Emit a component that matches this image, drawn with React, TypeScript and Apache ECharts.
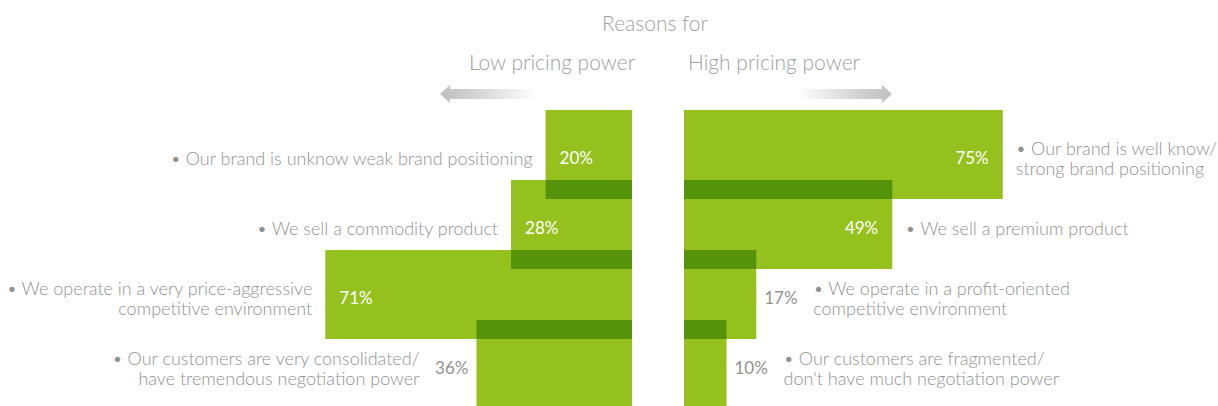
import React, { useEffect, useRef } from "react";
import * as echarts from "echarts";

const categories = ["r1", "r2", "r3", "r4"];
const lowValues = [20, 28, 71, 36];
const highValues = [75, 49, 17, 10];
const lowLabels = [
  "• Our brand is unknow weak brand positioning",
  "• We sell a commodity product",
  "• We operate in a very price-aggressive\ncompetitive environment",
  "• Our customers are very consolidated/\nhave tremendous negotiation power",
];
const highLabels = [
  "• Our brand is well know/\nstrong brand positioning",
  "• We sell a premium product",
  "• We operate in a profit-oriented\ncompetitive environment",
  "• Our customers are fragmented/\ndon't have much negotiation power",
];
const lowInside = [true, true, true, false];
const highInside = [true, true, false, false];

const LIGHT = "#95C11F";
const DARK = "#54930A";
const GRAY = "#929292";
const FONT = "Lato, 'Open Sans', sans-serif";
const BAR_H = 89;
const VAL_W = 33;

function overlapData(vals: number[]) {
  const out: number[][] = [];
  for (let i = 0; i < vals.length - 1; i++) out.push([Math.min(vals[i], vals[i + 1]), i]);
  return out;
}

function overlapRender(params: any, api: any) {
  const i = api.value(1);
  const w = api.value(0);
  const p0 = api.coord([0, i]);
  const p1 = api.coord([w, i]);
  const pn = api.coord([0, i + 1]);
  const top = pn[1] - BAR_H / 2;
  const bottom = p0[1] + BAR_H / 2;
  return {
    type: "rect",
    shape: { x: Math.min(p0[0], p1[0]), y: top, width: Math.abs(p1[0] - p0[0]), height: bottom - top },
    style: { fill: DARK },
  };
}

function labelRender(side: "low" | "high") {
  return (params: any, api: any) => {
    const i = params.dataIndex;
    const v = api.value(0);
    const end = api.coord([v, i]);
    const y = end[1] + 3;
    const inside = side === "low" ? lowInside[i] : highInside[i];
    const desc = side === "low" ? lowLabels[i] : highLabels[i];
    const dir = side === "low" ? -1 : 1;
    let valX: number, valAlign: string, valFill: string, descX: number;
    if (inside) {
      valX = end[0] - dir * 14;
      valAlign = side === "low" ? "left" : "right";
      valFill = "#ffffff";
      descX = end[0] + dir * 13;
    } else {
      valX = end[0] + dir * 8;
      valAlign = side === "low" ? "right" : "left";
      valFill = GRAY;
      descX = end[0] + dir * (8 + VAL_W + 16);
    }
    return {
      type: "group",
      children: [
        {
          type: "text",
          x: valX,
          y,
          style: {
            text: v + "%",
            fill: valFill,
            fontSize: 17,
            fontFamily: FONT,
            align: valAlign,
            verticalAlign: "middle",
          },
        },
        {
          type: "text",
          x: descX,
          y,
          style: {
            text: desc,
            fill: GRAY,
            fontSize: 18,
            fontWeight: 300,
            fontFamily: FONT,
            lineHeight: 20,
            align: side === "low" ? "right" : "left",
            verticalAlign: "middle",
          },
        },
      ],
    };
  };
}

export default function App() {
  const ref = useRef<HTMLDivElement>(null);
  useEffect(() => {
    document.body.style.margin = "0";
    const chart = echarts.init(ref.current!, undefined, { renderer: "svg" });
    const gridTop = 119.5;
    const gridH = 280;
    const titleStyle = { fill: "#a0a0a0", fontSize: 21, fontWeight: 300, fontFamily: FONT, align: "center", verticalAlign: "middle" };
    chart.setOption({
      animation: false,
      backgroundColor: "#ffffff",
      grid: [
        { left: 200, width: 432, top: gridTop, height: gridH },
        { left: 684, width: 425, top: gridTop, height: gridH },
      ],
      xAxis: [
        { type: "value", gridIndex: 0, min: 0, max: 100, inverse: true, show: false },
        { type: "value", gridIndex: 1, min: 0, max: 100, show: false },
      ],
      yAxis: [
        { type: "category", gridIndex: 0, data: categories, inverse: true, show: false },
        { type: "category", gridIndex: 1, data: categories, inverse: true, show: false },
      ],
      graphic: [
        { type: "text", x: 655, y: 22, style: { text: "Reasons for", ...titleStyle } },
        { type: "text", x: 552, y: 61, style: { text: "Low pricing power", ...titleStyle } },
        { type: "text", x: 774, y: 61, style: { text: "High pricing power", ...titleStyle } },
        {
          type: "polygon",
          shape: { points: [[440, 94], [450, 85], [450, 89], [537, 89], [537, 99], [450, 99], [450, 103]] },
          style: {
            fill: new echarts.graphic.LinearGradient(0, 0, 1, 0, [
              { offset: 0, color: "#c0c0c0" },
              { offset: 0.35, color: "#d2d2d2" },
              { offset: 1, color: "#ffffff" },
            ]),
          },
        },
        {
          type: "polygon",
          shape: { points: [[797, 89], [882, 89], [882, 85], [892, 94], [882, 103], [882, 99], [797, 99]] },
          style: {
            fill: new echarts.graphic.LinearGradient(0, 0, 1, 0, [
              { offset: 0, color: "#ffffff" },
              { offset: 0.65, color: "#d2d2d2" },
              { offset: 1, color: "#c0c0c0" },
            ]),
          },
        },
      ],
      series: [
        { type: "bar", xAxisIndex: 0, yAxisIndex: 0, data: lowValues, barWidth: BAR_H, clip: false, itemStyle: { color: LIGHT }, silent: true, z: 2 },
        { type: "bar", xAxisIndex: 1, yAxisIndex: 1, data: highValues, barWidth: BAR_H, clip: false, itemStyle: { color: LIGHT }, silent: true, z: 2 },
        { type: "custom", xAxisIndex: 0, yAxisIndex: 0, data: overlapData(lowValues), renderItem: overlapRender, clip: false, silent: true, z: 5 },
        { type: "custom", xAxisIndex: 1, yAxisIndex: 1, data: overlapData(highValues), renderItem: overlapRender, clip: false, silent: true, z: 5 },
        { type: "custom", xAxisIndex: 0, yAxisIndex: 0, data: lowValues.map((v, i) => [v, i]), renderItem: labelRender("low"), clip: false, silent: true, z: 10 },
        { type: "custom", xAxisIndex: 1, yAxisIndex: 1, data: highValues.map((v, i) => [v, i]), renderItem: labelRender("high"), clip: false, silent: true, z: 10 },
      ],
    });
    return () => chart.dispose();
  }, []);
  return <div ref={ref} style={{ position: "absolute", left: 0, top: 0, width: 1218, height: 406 }} />;
}
